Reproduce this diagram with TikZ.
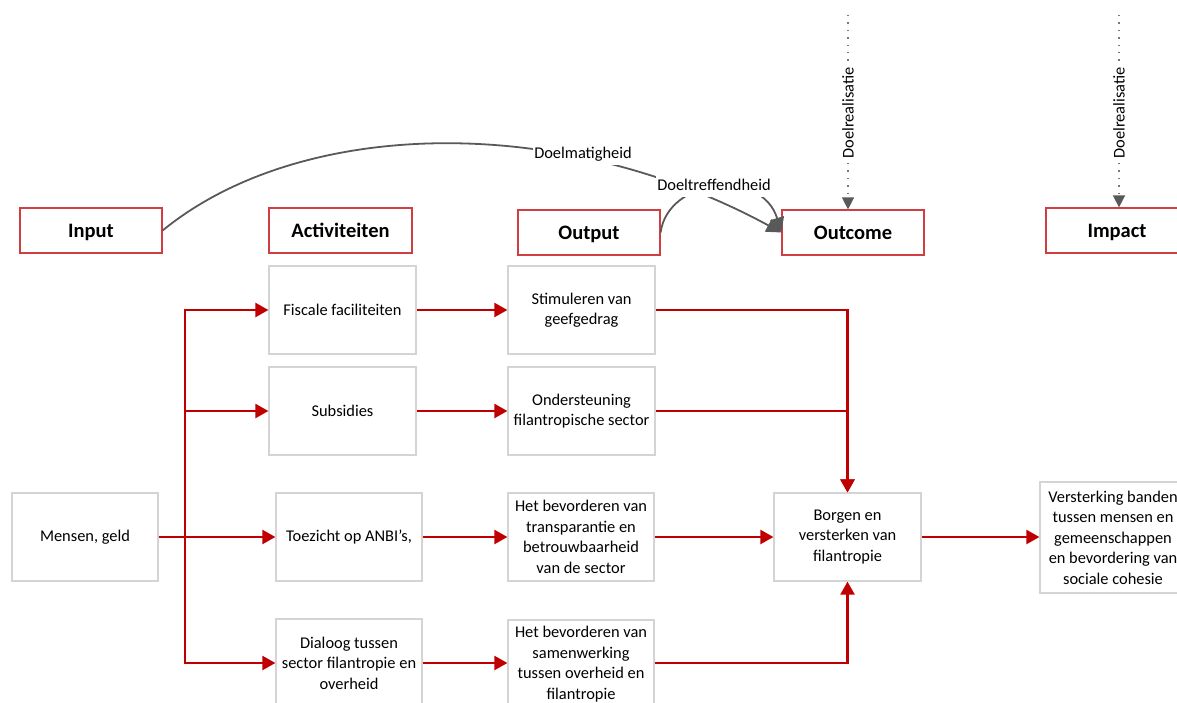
\documentclass[tikz,border=0pt]{standalone}
\usepackage{fontspec}
\setmainfont{Carlito}
\usetikzlibrary{arrows.meta}
\definecolor{boxgray}{RGB}{212,212,212}
\definecolor{hdrred}{RGB}{208,62,66}
\definecolor{arrred}{RGB}{192,0,0}
\definecolor{congray}{RGB}{89,89,89}
\definecolor{dotgray}{RGB}{120,120,120}
\begin{document}
\begin{tikzpicture}[x=1pt,y=-1pt,
  box/.style={draw=boxgray,line width=1.2pt,fill=white,inner sep=0pt,align=center,
    minimum width=146pt,minimum height=88pt,font=\fontsize{16.4}{20.5}\selectfont},
  hdr/.style={draw=hdrred,line width=1.2pt,fill=white,inner sep=0pt,minimum width=142pt,
    minimum height=45pt,text height=19.5pt,text depth=5.5pt,
    font=\fontsize{20.5}{24}\selectfont\bfseries},
  redline/.style={draw=arrred,line width=2.2pt},
  redarr/.style={redline,-{Triangle[length=13pt,width=14pt]}},
  grayarr/.style={draw=congray,line width=1.8pt,-{Triangle[length=15pt,width=14pt]}},
  dotarr/.style={draw=dotgray,line width=1.4pt,dash pattern=on 1.4pt off 6pt,
    -{Triangle[length=12pt,width=12pt,color=congray]}},
  lbl/.style={fill=white,inner sep=1.5pt,text height=15.6pt,text depth=4.4pt,
    font=\fontsize{16.4}{20}\selectfont},
  vlbl/.style={lbl,rotate=90}]
\useasboundingbox (0,0) rectangle (1177,702);
\clip (0,0) rectangle (1177,702);

% header boxes
\node[hdr] (input) at (91,230.5) {Input};
\node[hdr,minimum width=143pt] (activ) at (340.5,230.5) {Activiteiten};
\node[hdr] (output) at (589,232.5) {Output};
\node[hdr] (outcome) at (853,232.5) {Outcome};
\node[hdr] (impact) at (1117,230.5) {Impact};

% content boxes
\node[box] (mensen) at (85,537) {Mensen, geld};
\node[box,minimum width=147pt] (fisc) at (342.5,310) {Fiscale faciliteiten};
\node[box,minimum width=147pt] (subs) at (342.5,411) {Subsidies};
\node[box] (toez) at (349,537) {Toezicht op ANBI’s,};
\node[box] (dial) at (349,663) {Dialoog tussen\\sector filantropie en\\overheid};
\node[box,minimum width=147pt] (stim) at (581.5,310) {Stimuleren van\\geefgedrag};
\node[box,minimum width=147pt] (onder) at (581.5,411) {Ondersteuning\\filantropische sector};
\node[box] (transp) at (581,537) {Het bevorderen van\\transparantie en\\betrouwbaarheid\\van de sector};
\node[box] (samen) at (581,664) {Het bevorderen van\\samenwerking\\tussen overheid en\\filantropie};
\node[box,minimum width=147pt] (borg) at (847.5,537) {Borgen en\\versterken van\\filantropie};
\node[box,minimum height=111pt] (verst) at (1113,537.5) {Versterking banden\\tussen mensen en\\gemeenschappen\\en bevordering van\\sociale cohesie};

% red flow
\coordinate (trunk) at (185,537);
\draw[redarr] (mensen.east) -- (toez.west);
\draw[redarr] (trunk) |- (fisc.west);
\draw[redarr] (trunk) |- (subs.west);
\draw[redarr] (trunk) |- (dial.west);
\draw[redarr] (fisc.east) -- (stim.west);
\draw[redarr] (subs.east) -- (onder.west);
\draw[redarr] (toez.east) -- (transp.west);
\draw[redarr] (dial.east) -- (dial.east -| samen.west);
\draw[redarr] (onder.east) -| (borg.north);
\draw[redarr] (stim.east) -| (borg.north);
\draw[redarr] (transp.east) -- (borg.west);
\draw[redarr] (samen.east |- dial.east) -| (borg.south);
\draw[redarr] (borg.east) -- (borg.east -| verst.west);

% gray curved connectors
\draw[grayarr] (input.east) .. controls (300,118) and (560,112) .. (outcome.west);
\draw[grayarr] (output.east) .. controls (668,178) and (762,168) .. (outcome.west);
\node[lbl] (lab1) at (583,153) {Doelmatigheid};
\node[lbl] (lab2) at (714,185) {Doeltreffendheid};

% dotted arrows
\coordinate (top1) at (848,15);
\coordinate (top2) at (1119,15);
\draw[dotarr] (top1) -- (top1 |- outcome.north);
\draw[dotarr] (top2) -- (top2 |- impact.north);
\node[vlbl] (lab3) at (848,113) {Doelrealisatie};
\node[vlbl] (lab4) at (1119,113) {Doelrealisatie};
\end{tikzpicture}
\end{document}
